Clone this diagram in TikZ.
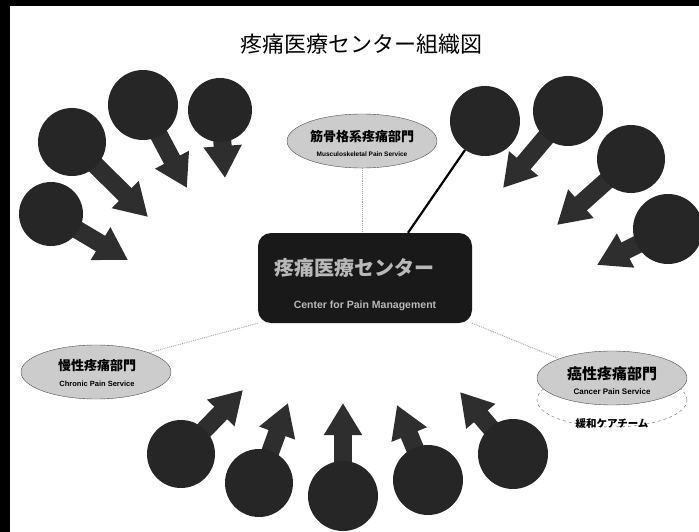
\documentclass[tikz,border=0pt]{standalone}
\usepackage{fontspec}
\setmainfont{Liberation Sans}
\newfontfamily\jp{Noto Sans CJK JP}
\usetikzlibrary{arrows.meta,shapes.geometric}
\pgfdeclarelayer{bg}
\pgfsetlayers{bg,main}
\tikzset{
  circ/.style={circle, fill=black!85, minimum size=68pt, inner sep=0pt},
  fatarrow/.style={draw=black!82, line width=18pt, -{Triangle[width=36pt,length=32pt]}},
  dept/.style={ellipse, draw=black!70, fill=gray!40, minimum width=150pt, minimum height=54pt, inner sep=0pt, align=center},
  thinlink/.style={draw=gray!70, densely dotted, line width=0.9pt},
}
\begin{document}
\begin{tikzpicture}[x=1pt,y=-1pt]
\useasboundingbox (0,0) rectangle (699,532);

\node[font=\jp\fontsize{22}{24}\selectfont] (title) at (361,44) {疼痛医療センター組織図};

% central box
\node[rounded corners=13pt, fill=black!90, minimum width=214pt, minimum height=90pt, inner sep=0pt] (box) at (365,278) {};
\node[text=gray!55, font=\jp\bfseries\fontsize{20}{22}\selectfont] (boxjp) at (354,268) {疼痛医療センター};
\node[text=gray!55, font=\bfseries\fontsize{10.5}{12}\selectfont] (boxen) at (365,306) {Center for Pain Management};

% departments
\node[dept] (top) at (362,141) {};
\node[font=\jp\bfseries\fontsize{13}{14}\selectfont] (topjp) at (362,137) {筋骨格系疼痛部門};
\node[font=\bfseries\fontsize{6.5}{7}\selectfont] (topen) at (362,154) {Musculoskeletal Pain Service};

\node[dept] (left) at (96,372) {};
\node[font=\jp\bfseries\fontsize{13}{14}\selectfont] (leftjp) at (97,366) {慢性疼痛部門};
\node[font=\bfseries\fontsize{7.5}{8}\selectfont] (leften) at (97,384) {Chronic Pain Service};

\node[dept, draw=black!60, dashed, fill=white] (palbase) at (612,400) {};
\node[dept] (right) at (612,378) {};
\node[font=\jp\bfseries\fontsize{15}{16}\selectfont] (rightjp) at (612,374) {癌性疼痛部門};
\node[font=\bfseries\fontsize{8}{9}\selectfont] (righten) at (612,392) {Cancer Pain Service};
\node[font=\jp\bfseries\fontsize{10.5}{12}\selectfont] (pal) at (612,424) {緩和ケアチーム};

% links
\draw[thinlink] (top.south) -- (box.north -| top.south);
\draw[thinlink] (left.20) -- (box.south west);
\draw[thinlink] (box.south east) -- (right.160);

% circles
\node[circ, minimum size=70pt] (c1) at (143,105) {};
\node[circ, minimum size=64pt] (c2) at (220,110) {};
\node[circ] (c3) at (72,142) {};
\node[circ, minimum size=64pt] (c4) at (51,214) {};
\node[circ, minimum size=70pt] (c5) at (485,121) {};
\node[circ, minimum size=70pt] (c6) at (568,111) {};
\node[circ] (c7) at (631,159) {};
\node[circ, minimum size=70pt] (c8) at (668,229) {};
\node[circ] (c9) at (181,454) {};
\node[circ] (c10) at (259,483) {};
\node[circ, minimum size=70pt] (c11) at (343,496) {};
\node[circ, minimum size=70pt] (c12) at (428,480) {};
\node[circ, minimum size=70pt] (c13) at (513,454) {};

\coordinate (t1) at (187,188);
\coordinate (t2) at (225,178);
\coordinate (t3) at (148,217);
\coordinate (t4) at (128,260);
\coordinate (t6) at (503,188);
\coordinate (t7) at (557,225);
\coordinate (t8) at (597,265);
\coordinate (t9) at (243,390);
\coordinate (t10) at (288,403);
\coordinate (t11) at (343,403);
\coordinate (t12) at (397,405);
\coordinate (t13) at (460,392);

\draw[line width=2.2pt, black] (c5) -- (box.north -| 408,0);

\begin{pgfonlayer}{bg}
\fill[white] (0,0) rectangle (699,532);
\fill[black] (0,0) rectangle (699,6);
\fill[black] (0,0) rectangle (10,532);
\foreach \i in {1,2,3,4,6,7,8,9,10,11,12,13}{
  \draw[fatarrow] (c\i.center) -- (t\i);
}
\end{pgfonlayer}
\end{tikzpicture}
\end{document}
